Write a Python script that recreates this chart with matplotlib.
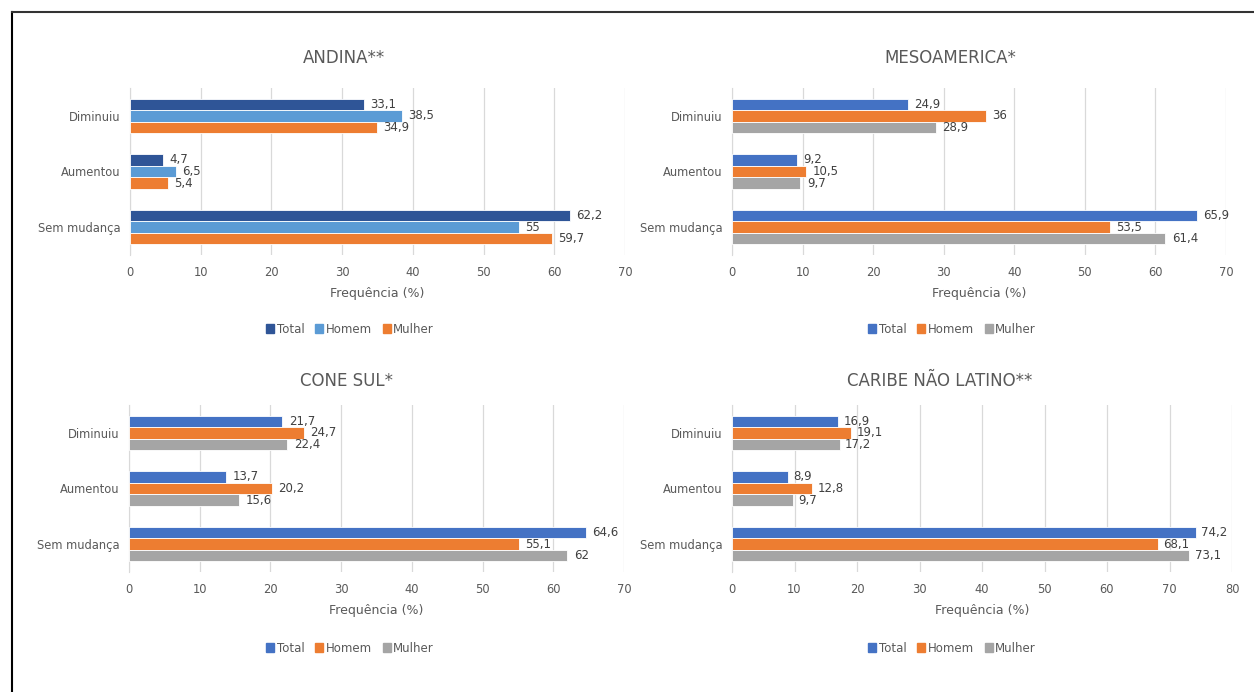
import numpy as np
import matplotlib
matplotlib.use("Agg")
import matplotlib.pyplot as plt
from matplotlib.lines import Line2D
from matplotlib.patches import Patch

plt.rcParams['font.family'] = ['DejaVu Sans']

categorias = ["Diminuiu", "Aumentou", "Sem mudança"]
series = ["Total", "Homem", "Mulher"]

andina = [[33.1, 4.7, 62.2], [38.5, 6.5, 55.0], [34.9, 5.4, 59.7]]
mesoamerica = [[24.9, 9.2, 65.9], [36.0, 10.5, 53.5], [28.9, 9.7, 61.4]]
cone_sul = [[21.7, 13.7, 64.6], [24.7, 20.2, 55.1], [22.4, 15.6, 62.0]]
caribe = [[16.9, 8.9, 74.2], [19.1, 12.8, 68.1], [17.2, 9.7, 73.1]]

titulos = ["ANDINA**", "MESOAMERICA*", "CONE SUL*", "CARIBE NÃO LATINO**"]
xmax = [70, 70, 70, 80]

cores_andina = ["#2F5597", "#5B9BD5", "#ED7D31"]
cores = ["#4472C4", "#ED7D31", "#A5A5A5"]

W, H = 1254, 692
fig = plt.figure(figsize=(W / 100, H / 100), dpi=100)

# (left, top, right) em pixels; centro do titulo/legenda
layout = [
    (130, 88, 625, 344, 58, 350, 329),
    (732, 88, 1226, 950, 58, 952, 329),
    (129, 405, 624, 347, 381, 350, 648),
    (732, 405, 1232, 940, 381, 952, 648),
]
dados = [andina, mesoamerica, cone_sul, caribe]
paletas = [cores_andina, cores, cores, cores]

txt = "#404040"
y = np.arange(len(categorias))
h = 0.207

for k in range(4):
    l, t, r, tx, ty, lx, ly = layout[k]
    ax = fig.add_axes([l / W, 1 - (t + 167) / H, (r - l) / W, 167 / H])
    for i, s in enumerate(series):
        vals = dados[k][i]
        pos = y + (i - 1) * h
        ax.barh(pos, vals, height=h, color=paletas[k][i], edgecolor="white", linewidth=0.6, zorder=3)
        for p, v in zip(pos, vals):
            lab = ("%g" % v).replace(".", ",")
            ax.text(v + 0.9, p, lab, va="center", ha="left", fontsize=8.5, color=txt, zorder=4)
    ax.set_xlim(0, xmax[k])
    ax.set_ylim(2.5, -0.5)
    ax.set_xticks(np.arange(0, xmax[k] + 1, 10))
    ax.set_yticks(y)
    ax.set_yticklabels(categorias)
    ax.grid(axis="x", color="#D9D9D9", linewidth=0.9, zorder=0)
    for sp in ["top", "right", "bottom"]:
        ax.spines[sp].set_visible(False)
    ax.spines["left"].set_color("#D9D9D9")
    ax.tick_params(axis="y", length=0, labelsize=8.3, colors="#595959", pad=7)
    ax.tick_params(axis="x", length=0, labelsize=8.3, colors="#595959", pad=8)
    ax.set_xlabel("Frequência (%)", fontsize=9, color="#595959", labelpad=5.5)
    fig.text(tx / W, 1 - ty / H, titulos[k], ha="center", va="center", fontsize=12, color="#595959")
    handles = [Patch(color=paletas[k][i], label=series[i]) for i in range(3)]
    fig.legend(handles=handles, loc="center", bbox_to_anchor=(lx / W, 1 - ly / H), ncol=3,
               frameon=False, fontsize=8.5, handlelength=0.7, handleheight=0.7,
               handletextpad=0.2, columnspacing=0.9, labelcolor="#595959")

# moldura
fig.add_artist(Line2D([11.5 / W, 11.5 / W], [0, 1 - 11.5 / H], color="black", linewidth=1.5))
fig.add_artist(Line2D([11.5 / W, 1], [1 - 11.5 / H, 1 - 11.5 / H], color="#333333", linewidth=1.5))

fig.savefig("out.png", dpi=100)
